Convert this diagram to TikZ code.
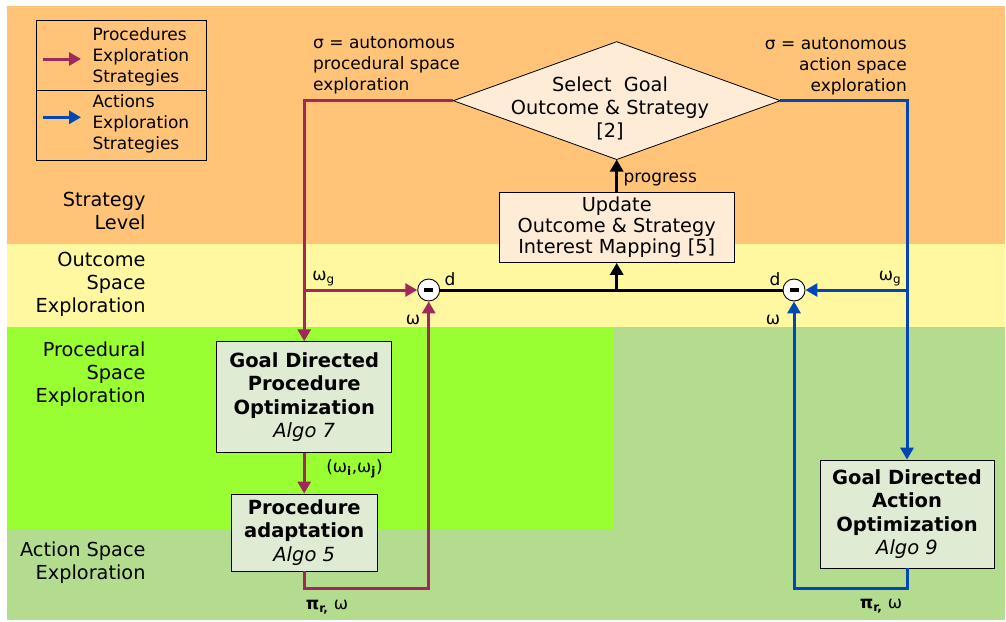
\documentclass[tikz,border=0pt]{standalone}
\usepackage{fontspec}
\setmainfont{DejaVu Sans}
\usetikzlibrary{arrows.meta}
\definecolor{stratbg}{RGB}{255,196,120}
\definecolor{outbg}{RGB}{255,248,160}
\definecolor{procbg}{RGB}{153,255,51}
\definecolor{actbg}{RGB}{179,220,143}
\definecolor{procline}{RGB}{160,40,90}
\definecolor{actline}{RGB}{0,70,180}
\definecolor{peach}{RGB}{255,236,215}
\definecolor{boxgreen}{RGB}{224,235,211}
\begin{document}
\begin{tikzpicture}[x=1pt,y=-1pt,
  lbl/.style={font=\fontsize{19.3}{23}\selectfont, inner sep=0pt},
  sml/.style={font=\fontsize{17}{21}\selectfont, inner sep=0pt},
  algobox/.style={draw=black, line width=0.8pt, fill=boxgreen, inner sep=0pt,
    align=center, font=\fontsize{19.5}{23.5}\selectfont},
  tip/.style={-{Triangle[length=12pt,width=13pt]}},
  pflow/.style={draw=procline, line width=3pt},
  aflow/.style={draw=actline, line width=3pt},
  bflow/.style={draw=black, line width=3pt},
  sumnode/.style={circle, draw=black, fill=white, line width=0.9pt,
    minimum size=22pt, inner sep=0pt},
]
\useasboundingbox (0,0) rectangle (1006,621);

% layer bands
\fill[stratbg] (7,6) rectangle (1005,244);
\fill[outbg] (7,244) rectangle (1005,327.3);
\fill[actbg] (7,327.3) rectangle (1005,620);
\fill[procbg] (7,327.3) rectangle (613,529.3);

% level labels
\node[lbl, anchor=east, align=right] (lvstrat) at (145.7,210.5) {Strategy\\Level};
\node[lbl, anchor=east, align=right] (lvout) at (145.7,284.5) {Outcome\\Space\\Exploration};
\node[lbl, anchor=east, align=right] (lvproc) at (145.7,374) {Procedural\\Space\\Exploration};
\node[lbl, anchor=east, align=right] (lvact) at (145.7,562.5) {Action Space\\Exploration};

% legend
\node[draw=black, line width=0.8pt, minimum width=170pt, minimum height=69.3pt, inner sep=0pt] (leg1) at (121.7,55.35) {};
\node[draw=black, line width=0.8pt, minimum width=170pt, minimum height=70pt, inner sep=0pt] (leg2) at (121.7,125) {};
\coordinate (lpa) at (43,59);
\coordinate (lpb) at (81,59);
\coordinate (laa) at (43,117.3);
\coordinate (lab) at (81,117.3);
\draw[pflow, tip] (lpa) -- (lpb);
\draw[aflow, tip] (laa) -- (lab);
\node[sml, anchor=west, align=left] (legp) at (92.3,56.6) {Procedures\\Exploration\\Strategies};
\node[sml, anchor=west, align=left] (lega) at (92.3,124) {Actions\\Exploration\\Strategies};

% strategy selection diamond
\coordinate (dl) at (453.3,100.7);
\coordinate (dt) at (616.7,41.7);
\coordinate (dr) at (780.3,100.7);
\coordinate (db) at (616.7,159.5);
\filldraw[fill=peach, draw=black, line width=0.8pt] (dl) -- (dt) -- (dr) -- (db) -- cycle;
\node[lbl, align=center] (sel) at (610,108.5) {Select~~Goal\\Outcome \& Strategy\\{[2]}};

% interest mapping box
\node[draw=black, line width=0.8pt, fill=peach, minimum width=235pt, minimum height=70pt,
  inner sep=0pt, align=center, font=\fontsize{19.3}{21}\selectfont] (upd) at (616.7,227.5)
  {Update\\Outcome \& Strategy\\Interest Mapping [5]};

% comparators
\node[sumnode] (sl) at (428.7,290) {\rule[-1.8pt]{9pt}{3.6pt}};
\node[sumnode] (sr) at (794,290) {\rule[-1.8pt]{9pt}{3.6pt}};

% algorithm boxes
\node[algobox, minimum width=175pt, minimum height=111pt] (po) at (304.2,397.2)
  {\textbf{Goal Directed}\\\textbf{Procedure}\\\textbf{Optimization}\\\textit{Algo 7}};
\node[algobox, minimum width=146.6pt, minimum height=77pt] (pa) at (304.2,532.5)
  {\textbf{Procedure}\\\textbf{adaptation}\\\textit{Algo 5}};
\node[algobox, minimum width=174pt, minimum height=108pt] (ao) at (907,514)
  {\textbf{Goal Directed}\\\textbf{Action}\\\textbf{Optimization}\\\textit{Algo 9}};

% outcome error and progress
\draw[bflow] (sl.east) -- (sr.west);
\draw[bflow, tip] (upd.south |- sl) -- (upd.south);
\draw[bflow, tip] (upd.north) -- (db);

% procedural exploration loop
\draw[pflow, tip] (dl) -| (po.north);
\draw[pflow, tip] (po.north |- sl) -- (sl.west);
\draw[pflow, tip] (po.south) -- (pa.north);
\draw[pflow, tip] (pa.south) -- ++(0,17) -| (sl.south);

% action exploration loop
\draw[aflow, tip] (dr) -| (ao.north);
\draw[aflow, tip] (ao.north |- sr) -- (sr.east);
\draw[aflow, tip] (ao.south) -- ++(0,20.5) -| (sr.south);

% labels
\node[sml, anchor=west, align=left] (sigp) at (313,65.5) {σ = autonomous\\procedural space\\exploration};
\node[sml, anchor=east, align=right] (siga) at (907,66.5) {σ = autonomous\\action space\\exploration};
\node[sml, anchor=west] (prog) at (623.3,179.5) {progress};
\node[sml] (dlab) at (450,279) {d};
\node[sml] (drab) at (775,279) {d};
\node[sml] (wgl) at (323.5,278.5) {ω\textsubscript{g}};
\node[sml] (wgr) at (890,278.5) {ω\textsubscript{g}};
\node[sml] (wl) at (413,320) {ω};
\node[sml] (wr) at (773,320) {ω};
\node[sml] (wij) at (354.5,469) {(ω\textsubscript{\textbf{i}},ω\textsubscript{\textbf{j}})};
\node[sml] (outp) at (327,607) {\textbf{π}\textsubscript{\textbf{r,}} ω};
\node[sml] (outa) at (881,606) {\textbf{π}\textsubscript{\textbf{r,}} ω};
\end{tikzpicture}
\end{document}
